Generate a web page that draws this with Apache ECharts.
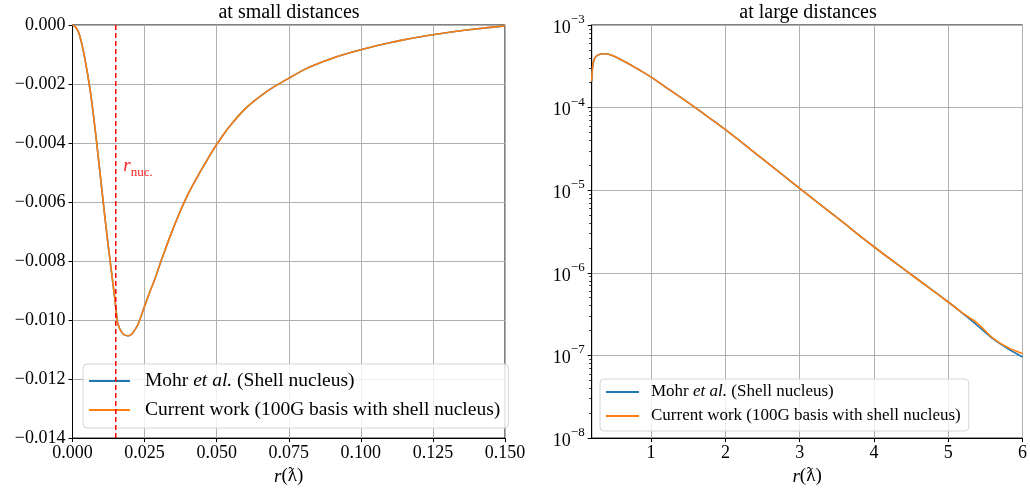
<!DOCTYPE html>
<html>
<head>
<meta charset="utf-8">
<script src="https://cdn.jsdelivr.net/npm/echarts@6/dist/echarts.min.js"></script>
<style>html,body{margin:0;padding:0;background:#fff}#c{width:1030px;height:491px}</style>
</head>
<body>
<div id="c"></div>
<script>
// ---- data ----
const nameMohr = 'Mohr et al. (Shell nucleus)';
const nameCurrent = 'Current work (100G basis with shell nucleus)';

const smallR = [0, 0.0014, 0.0026, 0.0043, 0.0061, 0.0078, 0.0093, 0.0114, 0.0133, 0.0147, 0.0153, 0.0158, 0.017, 0.0182, 0.0193, 0.0219, 0.0234, 0.0249, 0.0268, 0.0286, 0.0309, 0.0349, 0.039, 0.043, 0.0465, 0.05, 0.0558, 0.0627, 0.0751, 0.087, 0.1, 0.1135, 0.125, 0.1366, 0.15];
const smallMohr = [0, -0.00011, -0.0004, -0.00115, -0.0022, -0.0035, -0.0048, -0.00665, -0.0082, -0.0093, -0.00984, -0.01015, -0.0104, -0.01051, -0.01053, -0.01029, -0.00997, -0.00956, -0.00905, -0.0086, -0.00795, -0.0069, -0.00595, -0.0052, -0.00461, -0.00405, -0.00328, -0.0026, -0.0018, -0.00124, -0.00084, -0.00053, -0.00033, -0.00017, -0.00003];
const smallCurrent = [0, -0.00011, -0.0004, -0.00115, -0.0022, -0.0035, -0.0048, -0.00665, -0.0082, -0.0093, -0.00984, -0.01015, -0.0104, -0.01051, -0.01053, -0.01029, -0.00997, -0.00956, -0.00905, -0.0086, -0.00795, -0.0069, -0.00595, -0.0052, -0.00461, -0.00405, -0.00328, -0.0026, -0.0018, -0.00124, -0.00084, -0.00053, -0.00033, -0.00017, -0.00003];

const largeR = [0.2, 0.213, 0.236, 0.281, 0.371, 0.461, 0.64, 0.82, 1.0, 1.25, 1.5, 1.75, 2.0, 2.5, 3.0, 3.5, 4.0, 4.5, 5.0, 5.21, 5.39, 5.66, 6.0];
const largeMohr = [2.07e-4, 3.15e-4, 3.86e-4, 4.32e-4, 4.48e-4, 4.32e-4, 3.61e-4, 2.93e-4, 2.34e-4, 1.64e-4, 1.15e-4, 7.9e-5, 5.4e-5, 2.4e-5, 1.05e-5, 4.68e-6, 2.07e-6, 9.55e-7, 4.44e-7, 3.15e-7, 2.32e-7, 1.46e-7, 9.6e-8];
const largeCurrent = [2.07e-4, 3.15e-4, 3.86e-4, 4.32e-4, 4.48e-4, 4.32e-4, 3.61e-4, 2.93e-4, 2.34e-4, 1.64e-4, 1.15e-4, 7.9e-5, 5.4e-5, 2.4e-5, 1.05e-5, 4.68e-6, 2.07e-6, 9.55e-7, 4.44e-7, 3.18e-7, 2.46e-7, 1.48e-7, 1.06e-7];

const rNuc = 0.015;
const rNucLabelPos = [0.0176, -0.00484];

const largeXTicks = [1, 2, 3, 4, 5, 6];
const largeYMinorTicks = [2e-8,3e-8,4e-8,5e-8,6e-8,7e-8,8e-8,9e-8,2e-7,3e-7,4e-7,5e-7,6e-7,7e-7,8e-7,9e-7,2e-6,3e-6,4e-6,5e-6,6e-6,7e-6,8e-6,9e-6,2e-5,3e-5,4e-5,5e-5,6e-5,7e-5,8e-5,9e-5,2e-4,3e-4,4e-4,5e-4,6e-4,7e-4,8e-4,9e-4];

// ---- chart ----
const FONT = "'Liberation Serif','DejaVu Serif',serif";
const BLUE = '#1f77b4', ORANGE = '#ff7f0e';
const pair = (xs, ys) => xs.map((x, i) => [x, ys[i]]);
const minus = s => s.replace('-', '\u2212');

const axisCommon = {
  axisLine: { show: true, onZero: false, lineStyle: { color: '#000', width: 1 } },
  axisTick: { show: true, inside: false, length: 4, lineStyle: { color: '#000', width: 1 } },
  splitLine: { show: true, lineStyle: { color: '#b0b0b0', width: 1 } },
  axisLabel: { color: '#000', fontFamily: FONT, fontSize: 18 }
};
const xName = {
  name: '{i|r}(\u019B)',
  nameLocation: 'middle',
  nameGap: 27,
  nameTextStyle: { color: '#000', fontFamily: FONT, fontSize: 19, rich: { i: { fontStyle: 'italic', fontFamily: FONT, fontSize: 19 } } }
};
const lineCommon = { type: 'line', smooth: 0.5, showSymbol: false, symbol: 'none' };

const chart = echarts.init(document.getElementById('c'), null, { renderer: 'canvas' });
chart.setOption({
  backgroundColor: '#fff',
  animation: false,
  title: [
    { text: 'at small distances', left: 289, top: 3, padding: 0, textAlign: 'center', textStyle: { fontFamily: FONT, fontSize: 20, fontWeight: 'normal', color: '#000' } },
    { text: 'at large distances', left: 808, top: 3, padding: 0, textAlign: 'center', textStyle: { fontFamily: FONT, fontSize: 20, fontWeight: 'normal', color: '#000' } }
  ],
  grid: [
    { left: 72.5, width: 432.5, top: 25, height: 414, show: true, borderColor: '#000', borderWidth: 1, backgroundColor: 'transparent' },
    { left: 591.7, width: 433.3, top: 25, height: 414, show: true, borderColor: '#000', borderWidth: 1, backgroundColor: 'transparent' }
  ],
  xAxis: [
    Object.assign({}, axisCommon, xName, {
      gridIndex: 0, type: 'value', min: 0, max: 0.15, interval: 0.025,
      axisLabel: Object.assign({}, axisCommon.axisLabel, { margin: 6, formatter: v => v.toFixed(3) })
    }),
    Object.assign({}, axisCommon, xName, {
      gridIndex: 1, type: 'value', min: 0.2, max: 6,
      axisTick: Object.assign({}, axisCommon.axisTick, { customValues: largeXTicks }),
      axisLabel: Object.assign({}, axisCommon.axisLabel, { margin: 6, customValues: largeXTicks, formatter: v => String(v) })
    })
  ],
  yAxis: [
    Object.assign({}, axisCommon, {
      gridIndex: 0, type: 'value', min: -0.014, max: 0, interval: 0.002,
      axisLabel: Object.assign({}, axisCommon.axisLabel, { margin: 7, formatter: v => minus(v.toFixed(3)) })
    }),
    Object.assign({}, axisCommon, {
      gridIndex: 1, type: 'log', logBase: 10, min: 1e-8, max: 1e-3, position: 'left',
      axisLabel: Object.assign({}, axisCommon.axisLabel, {
        margin: 7,
        formatter: v => '{b|10}{s|' + minus(String(Math.round(Math.log10(v)))) + '}',
        rich: {
          b: { fontFamily: FONT, fontSize: 18, color: '#000', lineHeight: 24, verticalAlign: 'bottom' },
          s: { fontFamily: FONT, fontSize: 13, color: '#000', lineHeight: 13, verticalAlign: 'top' }
        }
      })
    }),
    {
      gridIndex: 1, type: 'log', logBase: 10, min: 1e-8, max: 1e-3, position: 'left',
      axisLine: { show: false },
      axisTick: { show: true, length: 2.5, customValues: largeYMinorTicks, lineStyle: { color: '#000', width: 0.8 } },
      axisLabel: { show: false },
      splitLine: { show: false }
    }
  ],
  legend: [
    {
      data: [nameMohr, nameCurrent], orient: 'vertical', left: 83, top: 364,
      itemWidth: 41, itemHeight: 2, icon: 'rect', itemGap: 7, padding: [6, 8, 7, 6],
      backgroundColor: 'rgba(255,255,255,0.8)', borderColor: '#d5d5d5', borderWidth: 1, borderRadius: 4,
      selectedMode: false,
      formatter: n => n === nameMohr ? 'Mohr {i|et al.} (Shell nucleus)' : n,
      textStyle: { fontFamily: FONT, fontSize: 19.5, color: '#000', lineHeight: 22, padding: [0, 0, 0, 10],
        rich: { i: { fontFamily: FONT, fontSize: 19.5, fontStyle: 'italic', color: '#000', lineHeight: 22 } } }
    },
    {
      data: [nameMohr, nameCurrent], orient: 'vertical', left: 600, top: 379,
      itemWidth: 33, itemHeight: 2, icon: 'rect', itemGap: 6, padding: [4, 8, 6, 6],
      backgroundColor: 'rgba(255,255,255,0.8)', borderColor: '#d5d5d5', borderWidth: 1, borderRadius: 4,
      selectedMode: false,
      formatter: n => n === nameMohr ? 'Mohr {i|et al.} (Shell nucleus)' : n,
      textStyle: { fontFamily: FONT, fontSize: 17, color: '#000', lineHeight: 18, padding: [0, 0, 0, 7],
        rich: { i: { fontFamily: FONT, fontSize: 17, fontStyle: 'italic', color: '#000', lineHeight: 18 } } }
    }
  ],
  series: [
    {
      name: 'rnuc', type: 'line', xAxisIndex: 0, yAxisIndex: 0,
      data: [[rNuc, 0], [rNuc, -0.014]],
      showSymbol: false, symbol: 'none', silent: true,
      lineStyle: { color: '#ff0000', type: [5, 3], width: 1.5 }, z: 5,
      markPoint: {
        silent: true, symbol: 'circle', symbolSize: 0,
        data: [{ coord: rNucLabelPos }],
        label: {
          show: true, position: 'right', distance: 0,
          formatter: '{r|r}{s|nuc.}',
          rich: {
            r: { fontFamily: FONT, fontStyle: 'italic', fontSize: 19, color: '#ff2020', lineHeight: 22, verticalAlign: 'top' },
            s: { fontFamily: FONT, fontSize: 13, color: '#ff2020', lineHeight: 13, verticalAlign: 'bottom' }
          }
        }
      }
    },
    Object.assign({}, lineCommon, {
      name: nameMohr, xAxisIndex: 0, yAxisIndex: 0, data: pair(smallR, smallMohr),
      color: BLUE, lineStyle: { width: 1.6, color: BLUE }, z: 3
    }),
    Object.assign({}, lineCommon, {
      name: nameCurrent, xAxisIndex: 0, yAxisIndex: 0, data: pair(smallR, smallCurrent),
      color: ORANGE, lineStyle: { width: 1.6, color: ORANGE }, z: 4
    }),
    Object.assign({}, lineCommon, {
      name: nameMohr, xAxisIndex: 1, yAxisIndex: 1, data: pair(largeR, largeMohr),
      color: BLUE, lineStyle: { width: 1.6, color: BLUE }, z: 3
    }),
    Object.assign({}, lineCommon, {
      name: nameCurrent, xAxisIndex: 1, yAxisIndex: 1, data: pair(largeR, largeCurrent),
      color: ORANGE, lineStyle: { width: 1.6, color: ORANGE }, z: 4
    })
  ]
});
</script>
</body>
</html>
